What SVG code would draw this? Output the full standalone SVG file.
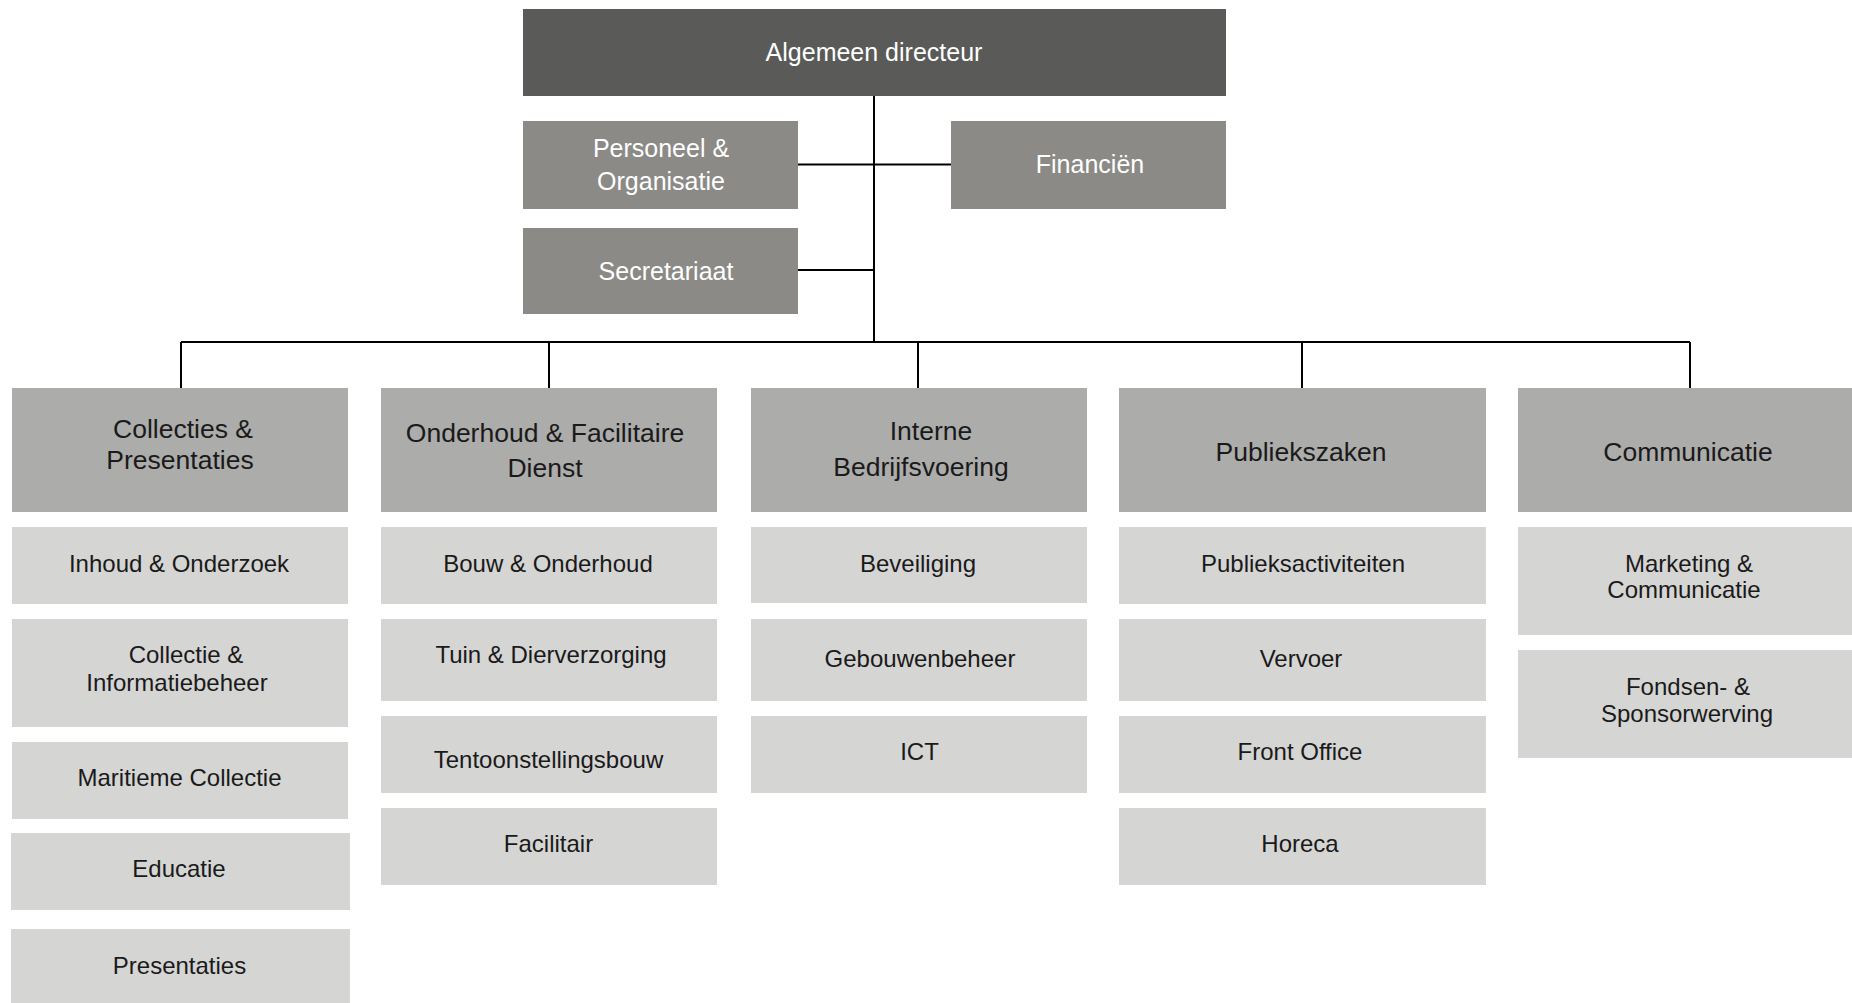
<svg xmlns="http://www.w3.org/2000/svg" width="1852" height="1003" viewBox="0 0 1852 1003">
<style>
text{font-family:"Liberation Sans",Arial,sans-serif;text-anchor:middle}
.top{fill:#5a5a58}
.l2{fill:#8b8a86}
.hd{fill:#acacab}
.sb{fill:#d5d5d4}
.tw{fill:#ffffff;font-size:25px}
.th{fill:#1a1a1a;font-size:26.5px}
.ts{fill:#1a1a1a;font-size:24px}
.ln{stroke:#000;stroke-width:2;fill:none}
</style>
<rect width="1852" height="1003" fill="#ffffff"/>
<g id="connectors">
<path class="ln" d="M874 96V342M798 164.5H951M798 270H874M181 342H1690M181 342V388M549 342V388M918 342V388M1302 342V388M1690 342V388"/>
</g>
<g id="algemeen-directeur"><rect class="top" x="523" y="9" width="703" height="87"/><text class="tw" x="874" y="61">Algemeen directeur</text></g>
<g id="personeel"><rect class="l2" x="523" y="121" width="275" height="88"/><text class="tw" x="661" y="157">Personeel &amp;</text><text class="tw" x="661" y="190">Organisatie</text></g>
<g id="financien"><rect class="l2" x="951" y="121" width="275" height="88"/><text class="tw" x="1090" y="173">Financiën</text></g>
<g id="secretariaat"><rect class="l2" x="523" y="228" width="275" height="86"/><text class="tw" x="666" y="280">Secretariaat</text></g>

<g id="collecties"><rect class="hd" x="12" y="388" width="336" height="124"/><text class="th" x="183" y="438">Collecties &amp;</text><text class="th" x="180" y="469">Presentaties</text></g>
<g id="onderhoud"><rect class="hd" x="381" y="388" width="336" height="124"/><text class="th" x="545" y="442">Onderhoud &amp; Facilitaire</text><text class="th" x="545" y="477">Dienst</text></g>
<g id="interne"><rect class="hd" x="751" y="388" width="336" height="124"/><text class="th" x="931" y="440">Interne</text><text class="th" x="921" y="476">Bedrijfsvoering</text></g>
<g id="publiekszaken"><rect class="hd" x="1119" y="388" width="367" height="124"/><text class="th" x="1301" y="461">Publiekszaken</text></g>
<g id="communicatie"><rect class="hd" x="1518" y="388" width="334" height="124"/><text class="th" x="1688" y="461">Communicatie</text></g>

<g id="inhoud"><rect class="sb" x="12" y="527" width="336" height="77"/><text class="ts" x="179" y="572">Inhoud &amp; Onderzoek</text></g>
<g id="collectie-info"><rect class="sb" x="12" y="619" width="336" height="108"/><text class="ts" x="186" y="663">Collectie &amp;</text><text class="ts" x="177" y="691">Informatiebeheer</text></g>
<g id="maritieme"><rect class="sb" x="12" y="742" width="336" height="77"/><text class="ts" x="179.5" y="786">Maritieme Collectie</text></g>
<g id="educatie"><rect class="sb" x="11" y="833" width="339" height="77"/><text class="ts" x="179" y="877">Educatie</text></g>
<g id="presentaties"><rect class="sb" x="11" y="929" width="339" height="74"/><text class="ts" x="179.5" y="974">Presentaties</text></g>

<g id="bouw"><rect class="sb" x="381" y="527" width="336" height="77"/><text class="ts" x="548" y="572">Bouw &amp; Onderhoud</text></g>
<g id="tuin"><rect class="sb" x="381" y="619" width="336" height="82"/><text class="ts" x="551" y="663">Tuin &amp; Dierverzorging</text></g>
<g id="tentoonstellingsbouw"><rect class="sb" x="381" y="716" width="336" height="77"/><text class="ts" x="548.5" y="768">Tentoonstellingsbouw</text></g>
<g id="facilitair"><rect class="sb" x="381" y="808" width="336" height="77"/><text class="ts" x="548.5" y="852">Facilitair</text></g>

<g id="beveiliging"><rect class="sb" x="751" y="527" width="336" height="76"/><text class="ts" x="918" y="572">Beveiliging</text></g>
<g id="gebouwenbeheer"><rect class="sb" x="751" y="619" width="336" height="82"/><text class="ts" x="920" y="667">Gebouwenbeheer</text></g>
<g id="ict"><rect class="sb" x="751" y="716" width="336" height="77"/><text class="ts" x="919.5" y="760">ICT</text></g>

<g id="publieksactiviteiten"><rect class="sb" x="1119" y="527" width="367" height="77"/><text class="ts" x="1303" y="572">Publieksactiviteiten</text></g>
<g id="vervoer"><rect class="sb" x="1119" y="619" width="367" height="82"/><text class="ts" x="1301" y="667">Vervoer</text></g>
<g id="front-office"><rect class="sb" x="1119" y="716" width="367" height="77"/><text class="ts" x="1300" y="760">Front Office</text></g>
<g id="horeca"><rect class="sb" x="1119" y="808" width="367" height="77"/><text class="ts" x="1300" y="852">Horeca</text></g>

<g id="marketing"><rect class="sb" x="1518" y="527" width="334" height="108"/><text class="ts" x="1689" y="572">Marketing &amp;</text><text class="ts" x="1684" y="598">Communicatie</text></g>
<g id="fondsen"><rect class="sb" x="1518" y="650" width="334" height="108"/><text class="ts" x="1688" y="695">Fondsen- &amp;</text><text class="ts" x="1687" y="722">Sponsorwerving</text></g>
</svg>
